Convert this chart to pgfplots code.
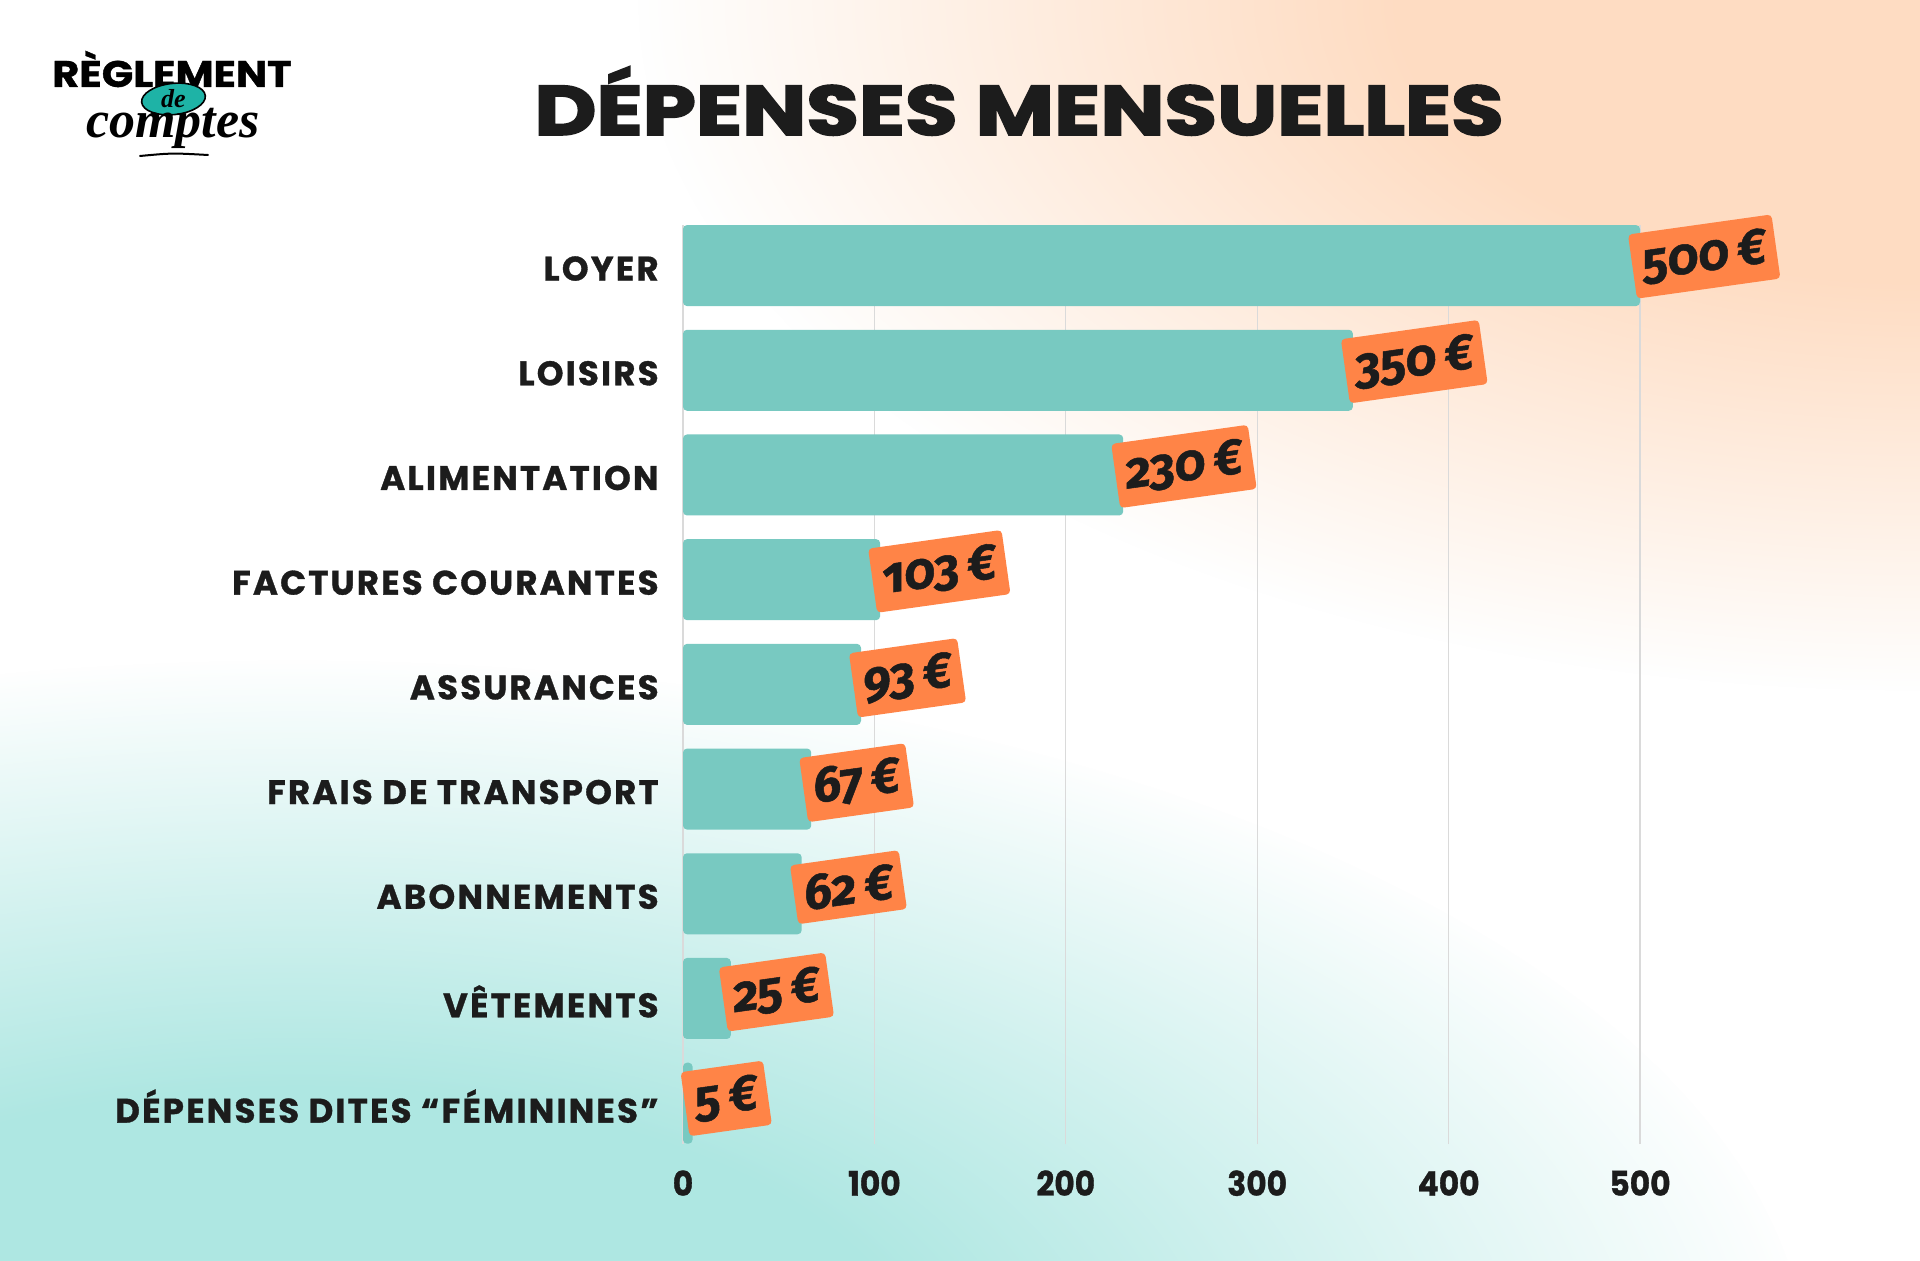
\documentclass[border=0pt]{standalone}
\usepackage{pgfplots}
\pgfplotsset{compat=1.18}
\usetikzlibrary{fadings}
\usepackage{fontspec}
\setmainfont{Poppins}
\newfontfamily\catfont{Poppins}[LetterSpace=6.5, BoldFeatures={FakeBold=1}]
\newfontfamily\tickfont{Poppins}[BoldFeatures={FakeBold=1}]
\newfontfamily\titlefont{Poppins}[BoldFeatures={FakeBold=2.5}]
\newfontfamily\lblfont{Fira Sans}[Numbers=OldStyle, BoldItalicFeatures={FakeBold=1}]
\newfontfamily\logoserif{Liberation Serif}
\definecolor{barc}{HTML}{78C9C1}
\definecolor{tagc}{HTML}{FF8447}
\definecolor{ink}{HTML}{1C1C1C}
\definecolor{peach}{HTML}{FEDCC2}
\definecolor{tealbg}{HTML}{AEE7E2}
\definecolor{gridc}{HTML}{DADADA}
\definecolor{logoteal}{HTML}{1EB3A6}
\pgfdeclareradialshading{softshade}{\pgfpointorigin}{color(0bp)=(white); color(10bp)=(white); color(25bp)=(black); color(50bp)=(black)}
\pgfdeclarefading{softfade}{\pgfuseshading{softshade}}
\begin{document}
\begin{tikzpicture}
\useasboundingbox (0,0) rectangle (960pt,630pt);
\begin{scope}
\clip (0,0) rectangle (960pt,630pt);
\fill[white] (0,0) rectangle (960pt,630pt);
\fill[tealbg, path fading=softfade] (150pt,-60pt) ellipse (760pt and 360pt);
\fill[peach, path fading=softfade] (960pt,630pt) ellipse (640pt and 345pt);
\end{scope}
% title
\node[text=ink, font=\titlefont\bfseries\fontsize{35}{38}\selectfont, xscale=1.22] at (509.5pt,579.5pt) {DÉPENSES MENSUELLES};
% logo
\node[text=black, font=\tickfont\bfseries\fontsize{18.5}{18.5}\selectfont, xscale=1.12] at (86pt,595.5pt) {RÈGLEMENT};
\draw[black, line width=0.8pt, fill=logoteal, rotate around={6:(86.75pt,580.5pt)}] (86.75pt,580.5pt) ellipse (16pt and 7.8pt);
\node[text=black, font=\logoserif\bfseries\itshape\fontsize{13}{13}\selectfont] at (86.75pt,580.5pt) {de};
\node[text=black, anchor=base, font=\logoserif\bfseries\itshape\fontsize{26}{26}\selectfont] at (86.5pt,561pt) {comptes};
\draw[black, line width=1pt, line cap=round] (70pt,552pt) .. controls (86pt,553.5pt) .. (104pt,552.5pt);
\begin{axis}[
  at={(341.5pt,58pt)}, anchor=south west,
  x=0.957pt, y=52.35pt,
  xmin=0, xmax=580, ymin=-0.39, ymax=8.39,
  enlargelimits=false, clip=false,
  axis line style={draw=none},
  major tick length=0pt,
  xtick={0,100,200,300,400,500},
  ytick={0,1,2,3,4,5,6,7,8},
  yticklabels={DÉPENSES DITES “FÉMININES”, VÊTEMENTS, ABONNEMENTS, FRAIS DE TRANSPORT, ASSURANCES, FACTURES COURANTES, ALIMENTATION, LOISIRS, LOYER},
  xmajorgrids, ymajorgrids=false,
  grid style={gridc, line width=0.6pt},
  yticklabel style={inner sep=0pt, anchor=east, xshift=-12pt, yshift=-1.5pt, text=ink, font=\catfont\bfseries\fontsize{17}{17}\selectfont},
  xticklabel style={inner sep=0pt, anchor=north, yshift=-13pt, text=ink, font=\tickfont\bfseries\fontsize{17}{17}\selectfont, xscale=0.92},
  /pgf/number format/assume math mode=true,
  point meta=x,
  nodes near coords={\pgfmathprintnumber{\pgfplotspointmeta}\,€},
  every node near coord/.append style={anchor=west, rotate=8, xshift=-4pt, fill=tagc, text=ink, inner xsep=5pt, inner ysep=6pt, font=\lblfont\bfseries\itshape\fontsize{25}{26}\selectfont},
]
\addplot[xbar, fill=barc, draw=none, bar width=40.5pt, rounded corners=2pt] coordinates {(500,8) (350,7) (230,6) (103,5) (93,4) (67,3) (62,2) (25,1) (5,0)};
\end{axis}
\end{tikzpicture}
\end{document}
